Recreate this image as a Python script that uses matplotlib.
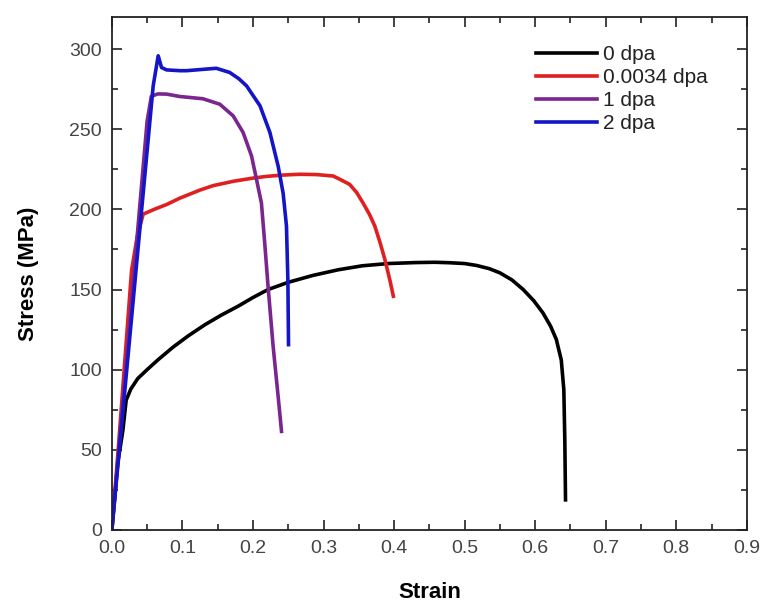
import matplotlib
matplotlib.use("Agg")
import matplotlib.pyplot as plt
from matplotlib.ticker import MultipleLocator

plt.rcParams['font.family'] = ['Liberation Sans', 'DejaVu Sans']

labels = ["0 dpa", "0.0034 dpa", "1 dpa", "2 dpa"]
colors = ["#000000", "#e02020", "#7a2590", "#1515c8"]

strain_0 = [0, 0.0085, 0.0156, 0.0203, 0.027, 0.0368, 0.05, 0.065, 0.0866, 0.108, 0.1318,
            0.155, 0.179, 0.2, 0.2215, 0.25, 0.285, 0.3207, 0.355, 0.3916, 0.43, 0.4578,
            0.479, 0.5, 0.517, 0.535, 0.55, 0.567, 0.583, 0.598, 0.611, 0.622, 0.630,
            0.637, 0.6406, 0.642, 0.643]
stress_0 = [0, 42, 62, 81, 88, 94.5, 100, 106, 114, 121, 128,
            134, 139.6, 145, 150, 154.5, 158.8, 162.3, 164.8, 166.2, 166.8, 167,
            166.7, 166.2, 165, 163, 160.4, 156, 150, 143, 135.4, 127, 118.8,
            106, 87.5, 56, 18.8]

strain_1 = [0, 0.009, 0.02, 0.028, 0.036, 0.0444, 0.06, 0.0775, 0.0964, 0.1247, 0.1436,
            0.172, 0.2, 0.22, 0.243, 0.2664, 0.290, 0.3137, 0.323, 0.337, 0.347, 0.356,
            0.365, 0.3727, 0.38, 0.387, 0.394, 0.399]
stress_1 = [0, 50, 115, 162, 183, 197, 200, 203, 207, 212, 214.8,
            217.5, 219.5, 220.6, 221.4, 221.9, 221.7, 220.8, 218.8, 215.6, 210.5, 204,
            197, 189.6, 179.5, 168.75, 156, 145.8]

strain_2 = [0, 0.05, 0.056, 0.065, 0.0775, 0.0964, 0.129, 0.153, 0.172, 0.186, 0.198,
            0.205, 0.212, 0.2165, 0.2216, 0.2286, 0.2357, 0.2405]
stress_2 = [0, 255, 270.5, 272, 271.9, 270.4, 269, 265.6, 258.3, 248, 233.3,
            218.75, 204, 180, 151, 114.6, 83.3, 61.5]

strain_3 = [0, 0.0586, 0.062, 0.0657, 0.0704, 0.0775, 0.0964, 0.1058, 0.148, 0.167,
            0.18, 0.191, 0.21, 0.224, 0.2357, 0.2428, 0.2475, 0.2495, 0.2504]
stress_3 = [0, 277, 286, 295.8, 288.5, 287, 286.5, 286.5, 288, 285.4,
            281.5, 277, 264.6, 248, 227, 210, 189.6, 156, 115.6]

strains = [strain_0, strain_1, strain_2, strain_3]
stresses = [stress_0, stress_1, stress_2, stress_3]

fig = plt.figure(figsize=(7.66, 6.11), dpi=100)
ax = fig.add_axes([0.146, 0.1326, 0.829, 0.8396])

for s, t, c, l in zip(strains, stresses, colors, labels):
    ax.plot(s, t, color=c, lw=2.6, label=l, solid_joinstyle='round')

ax.set_xlim(0, 0.9)
ax.set_ylim(0, 320)
ax.xaxis.set_major_locator(MultipleLocator(0.1))
ax.xaxis.set_minor_locator(MultipleLocator(0.05))
ax.yaxis.set_major_locator(MultipleLocator(50))
ax.yaxis.set_minor_locator(MultipleLocator(25))
ax.xaxis.set_major_formatter(plt.FuncFormatter(lambda v, p: f"{v:.1f}"))

ax.tick_params(which='both', direction='in', top=True, right=True,
               width=1.2, colors='#222222', labelcolor='#444444', labelsize=14)
ax.tick_params(which='major', length=7, pad=7)
ax.tick_params(which='minor', length=4)
for sp in ax.spines.values():
    sp.set_linewidth(1.3)
    sp.set_color('#222222')

ax.set_xlabel("Strain", fontsize=16, fontweight='bold', labelpad=18)
ax.set_ylabel("Stress (MPa)", fontsize=16, fontweight='bold', labelpad=22)

leg = ax.legend(loc='upper left', frameon=False, fontsize=15, handlelength=2.9,
                handletextpad=0.3, labelspacing=0.2, borderaxespad=0.0,
                bbox_to_anchor=(0.655, 0.962))
for t in leg.get_texts():
    t.set_color('#222222')

fig.savefig("out.png", dpi=100)
